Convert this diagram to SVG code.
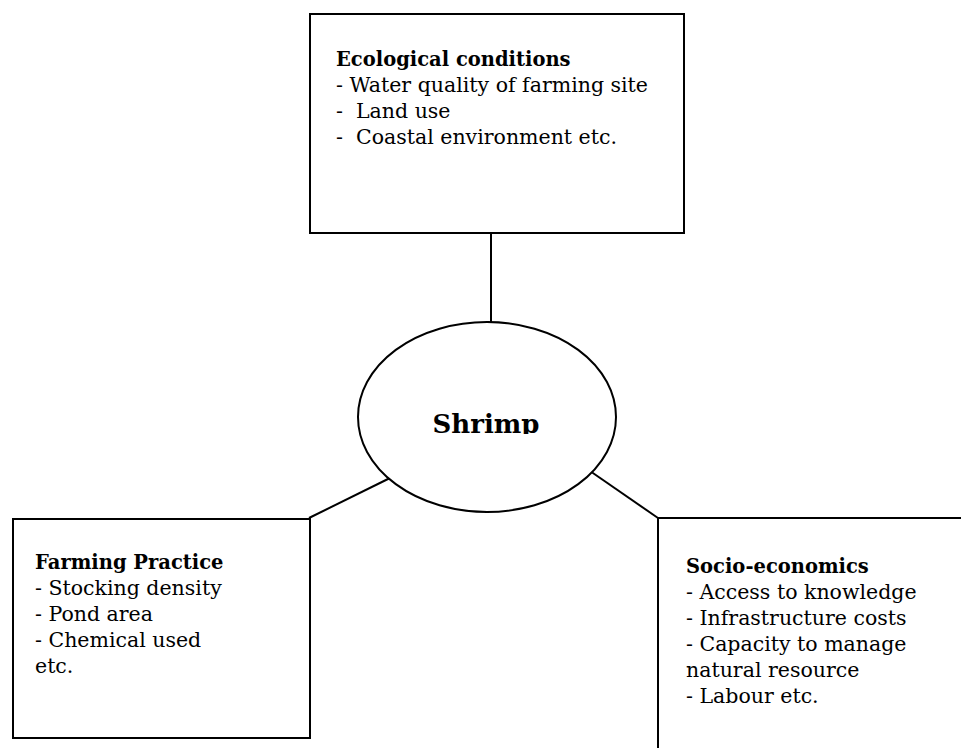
<svg xmlns="http://www.w3.org/2000/svg" width="961" height="748" viewBox="0 0 961 748">
<style>
.box{fill:#fff;stroke:#000;stroke-width:2}
.conn{fill:none;stroke:#000;stroke-width:2}
.t{font-family:"DejaVu Serif","Liberation Serif",serif;font-size:20.5px;fill:#000;white-space:pre}
.h{font-weight:bold;font-size:19.5px}
.c{font-family:"DejaVu Serif","Liberation Serif",serif;font-size:26px;font-weight:bold;fill:#000}
</style>
<defs>
<clipPath id="clipShrimp"><rect x="400" y="380" width="180" height="54"/></clipPath>
</defs>
<rect width="961" height="748" fill="#fff"/>
<g id="connectors">
<line class="conn" x1="491" y1="233" x2="491" y2="322"/>
<line class="conn" x1="390" y1="478" x2="309" y2="518"/>
<line class="conn" x1="590" y1="471" x2="658" y2="518"/>
</g>
<g id="ecological">
<rect class="box" x="310" y="14" width="374" height="219"/>
<text class="t h" x="336" y="66">Ecological conditions</text>
<text class="t" x="336" y="92">- Water quality of farming site</text>
<text class="t" x="336" y="118">-  Land use</text>
<text class="t" x="336" y="144">-  Coastal environment etc.</text>
</g>
<g id="shrimp">
<ellipse class="box" cx="487" cy="417" rx="129" ry="95"/>
<text class="c" x="486" y="433" text-anchor="middle" clip-path="url(#clipShrimp)">Shrimp</text>
</g>
<g id="farming">
<rect class="box" x="13" y="519" width="297" height="219"/>
<text class="t h" x="35" y="569">Farming Practice</text>
<text class="t" x="35" y="595">- Stocking density</text>
<text class="t" x="35" y="621">- Pond area</text>
<text class="t" x="35" y="647">- Chemical used</text>
<text class="t" x="35" y="673">etc.</text>
</g>
<g id="socio">
<rect class="box" x="658" y="518" width="320" height="250"/>
<text class="t h" x="686" y="573">Socio-economics</text>
<text class="t" x="686" y="599">- Access to knowledge</text>
<text class="t" x="686" y="625">- Infrastructure costs</text>
<text class="t" x="686" y="651">- Capacity to manage</text>
<text class="t" x="686" y="677">natural resource</text>
<text class="t" x="686" y="703">- Labour etc.</text>
</g>
</svg>
